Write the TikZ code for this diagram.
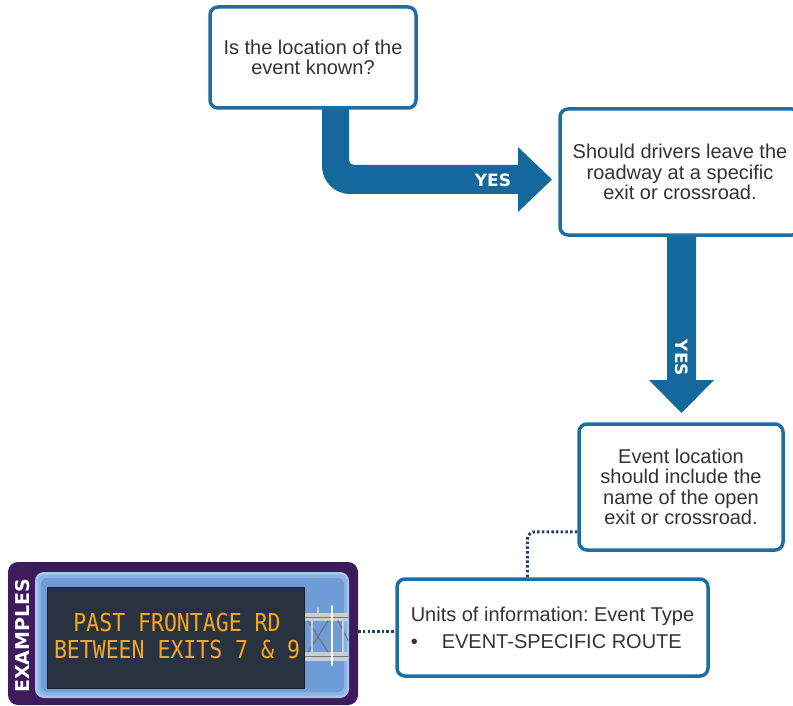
\documentclass[tikz,border=0pt]{standalone}
\usepackage{fontspec}
\usepackage{graphicx}
\setmainfont{Liberation Sans}
\newfontfamily\signfont{DejaVu Sans Mono}
\newfontfamily\labelfont{DejaVu Sans}
\usetikzlibrary{shadows,backgrounds}
\frenchspacing

\definecolor{flowblue}{HTML}{15689B}
\definecolor{edgeblue}{HTML}{1E6EA2}
\definecolor{inkgray}{HTML}{333333}
\definecolor{linknavy}{HTML}{22406F}
\definecolor{framepurple}{HTML}{3D1B5C}
\definecolor{skyedge}{HTML}{A9C6EA}
\definecolor{skymid}{HTML}{8DB3E4}
\definecolor{skyblue}{HTML}{6E9CD7}
\definecolor{boardgray}{HTML}{28333F}
\definecolor{ledamber}{HTML}{F5A623}
\definecolor{trussgray}{HTML}{C9CED3}
\definecolor{trussdark}{HTML}{6E757C}

\tikzset{
  qbox/.style={draw=edgeblue, line width=3.5pt, rounded corners=8pt, fill=white,
    text=inkgray, align=center, inner sep=0pt,
    font=\fontsize{20}{20.5}\selectfont,
    drop shadow={opacity=0.18, shadow xshift=1pt, shadow yshift=-1.5pt}},
  link/.style={draw=linknavy, line width=3pt, dash pattern=on 2.5pt off 2.2pt},
  flow/.style={fill=flowblue},
  yeslabel/.style={text=white, inner sep=0pt,
    font=\labelfont\bfseries\fontsize{17}{17}\selectfont},
}

\begin{document}
\begin{tikzpicture}[x=1pt, y=-1pt]
\useasboundingbox (0,0) rectangle (793,706);

% bent arrow: first question -> second question
\fill[flow] (322,100) -- (322,166) .. controls (322,181.5) and (334.5,194) .. (350,194)
  -- (518,194) -- (518,212) -- (552,179.5) -- (518,147) -- (518,165)
  -- (354,165) .. controls (351.2,165) and (349,162.8) .. (349,160)
  -- (349,100) -- cycle;
\node[yeslabel] (yes1) at (493,180) {YES};

% straight arrow: second question -> location advice
\fill[flow] (667,230) -- (667,380) -- (649,380) -- (681.5,413) -- (714,380)
  -- (696,380) -- (696,230) -- cycle;
\node[yeslabel, rotate=-90] (yes2) at (681.5,358) {YES};

% question and advice boxes
\node[qbox, minimum width=206, minimum height=101] (box1) at (313,57.5)
  {Is the location of the\\event known?};
\node[qbox, minimum width=240, minimum height=126] (box2) at (680,172)
  {Should drivers leave the\\roadway at a specific\\exit or crossroad.};
\node[qbox, minimum width=204, minimum height=126] (box3) at (681,487)
  {Event location\\should include the\\name of the open\\exit or crossroad.};
\node[qbox, minimum width=311, minimum height=97, align=left,
  font=\fontsize{20}{27}\selectfont] (box4) at (552.5,627.5)
  {Units of information: Event Type\\\textbullet\hspace{24pt}EVENT-SPECIFIC ROUTE};

% examples panel with a roadside message sign
\node[fill=framepurple, rounded corners=10pt, minimum width=350, minimum height=143,
  inner sep=0pt] (panel) at (183,633.5) {};
\fill[skyedge, rounded corners=9pt] (35,572) rectangle (349,698);
\fill[skymid, rounded corners=8pt] (37.5,574.5) rectangle (347,695.5);
\fill[skyblue, rounded corners=6pt] (41,578) rectangle (344,692);

% overhead truss behind the sign
\begin{scope}[line cap=round]
  \fill[trussgray] (300,613) rectangle (348,621);
  \fill[trussgray] (300,652) rectangle (348,661);
  \draw[trussdark, line width=1pt] (300,617) -- (348,617);
  \draw[trussdark, line width=1pt] (300,656) -- (348,656);
  \draw[trussdark, line width=1.2pt] (308,621) -- (328,652) (328,621) -- (308,652);
  \draw[trussdark, line width=1.2pt] (338,621) -- (348,640);
  \draw[trussgray, line width=1.5pt] (312,621) -- (312,652) (343,621) -- (343,652);
  \draw[white!90!trussgray, line width=2pt] (332,606) -- (332,665);
  \draw[trussgray, line width=1.5pt] (318,608) -- (318,613);
\end{scope}

\node[fill=boardgray, draw=black!40!boardgray, line width=1pt, minimum width=257,
  minimum height=101, inner sep=0pt] (sign) at (175.5,637.5) {};
\node[text=ledamber, align=center, inner sep=0pt,
  font=\signfont\fontsize{21.5}{27}\selectfont] (signtext) at (177,636)
  {\scalebox{1}[1.15]{PAST FRONTAGE RD}\\\scalebox{1}[1.15]{BETWEEN EXITS 7 \& 9}};
\node[rotate=90, text=white, inner sep=0pt,
  font=\labelfont\bfseries\fontsize{19}{19}\selectfont] (examples) at (23,636) {EXAMPLES};

% dotted links
\coordinate (lk) at ([yshift=-3.5pt]box4.west);
\begin{pgfonlayer}{background}
  \draw[link, rounded corners=8pt] ([yshift=20pt]box3.south west) -| ([xshift=132pt]box4.north west);
  \draw[link] (panel.east |- lk) -- (lk);
\end{pgfonlayer}
\end{tikzpicture}
\end{document}
